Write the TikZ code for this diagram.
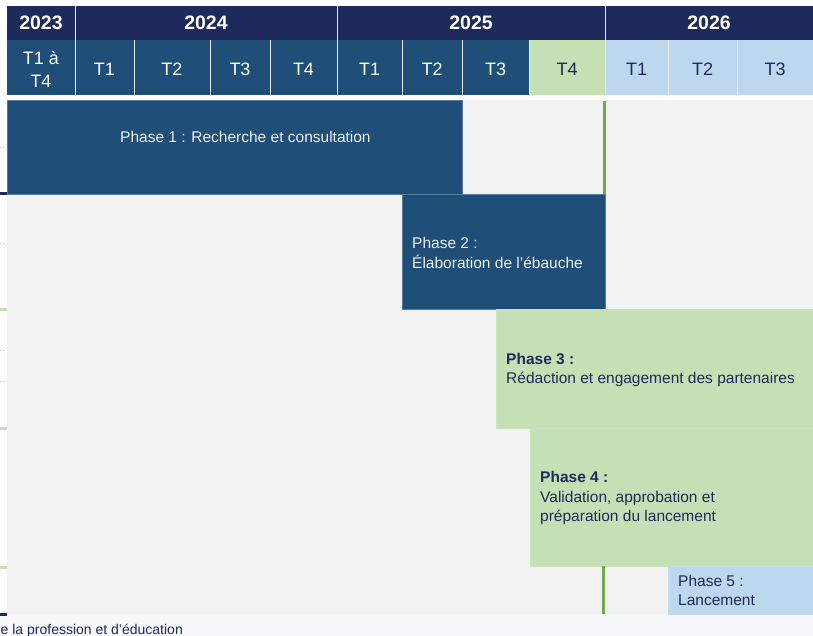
\documentclass[tikz,border=0pt]{standalone}
\usepackage{fontspec}
\setmainfont{Liberation Sans}
\definecolor{navy}{HTML}{1F2A5C}
\definecolor{dblue}{HTML}{1F4E79}
\definecolor{lgreen}{HTML}{C5E0B4}
\definecolor{lblue}{HTML}{BDD7EE}
\definecolor{bodygray}{HTML}{F2F2F2}
\definecolor{footbg}{HTML}{F7F8FB}
\definecolor{vgreen}{HTML}{70AD47}
\begin{document}
\begin{tikzpicture}[x=1pt,y=-1pt,
  cell/.style={rectangle, inner sep=0pt, outer sep=0pt, anchor=north west},
  yearcell/.style={cell, fill=navy, text=white, minimum height=34pt,
    font=\fontsize{19.5}{22}\selectfont\bfseries},
  qcell/.style={cell, minimum height=55pt, align=center,
    font=\fontsize{18}{23}\selectfont},
  qdark/.style={qcell, fill=dblue, text=white},
  qgreen/.style={qcell, fill=lgreen, text=navy},
  qblue/.style={qcell, fill=lblue, text=navy},
  qlab/.style={inner sep=0pt, font=\fontsize{18}{23}\selectfont, align=center},
  sep/.style={draw=white!85!gray, line width=0.9pt},
  phasebox/.style={cell, line width=0.5pt},
  pdark/.style={phasebox, fill=dblue, draw=dblue!75!white},
  pgreen/.style={phasebox, fill=lgreen, draw=lgreen!90!white},
  pblue/.style={phasebox, fill=lblue, draw=lblue!90!white},
  ptext/.style={anchor=west, align=left, inner sep=0pt,
    font=\fontsize{15.5}{19.5}\selectfont},
  vline/.style={draw=vgreen, line width=3pt},
  tick/.style={draw=gray!50, line width=0.6pt, dotted},
]
\useasboundingbox (0,0) rectangle (813,636);
\fill[white] (0,0) rectangle (813,636);

% body and footer backgrounds
\fill[bodygray] (7,100) rectangle (813,614);
\fill[footbg] (0,614) rectangle (813,636);

% year row
\node[yearcell, minimum width=68pt]  (y2023) at (7,6)   {2023};
\node[yearcell, minimum width=262pt] (y2024) at (75,6)  {2024};
\node[yearcell, minimum width=268pt] (y2025) at (337,6) {2025};
\node[yearcell, minimum width=208pt] (y2026) at (605,6) {2026};

% quarter row cells
\node[qdark,  minimum width=68pt] (q0)  at (7,40)   {};
\node[qdark,  minimum width=59pt] (q1)  at (75,40)  {};
\node[qdark,  minimum width=76pt] (q2)  at (134,40) {};
\node[qdark,  minimum width=60pt] (q3)  at (210,40) {};
\node[qdark,  minimum width=67pt] (q4)  at (270,40) {};
\node[qdark,  minimum width=65pt] (q5)  at (337,40) {};
\node[qdark,  minimum width=60pt] (q6)  at (402,40) {};
\node[qdark,  minimum width=67pt] (q7)  at (462,40) {};
\node[qgreen, minimum width=76pt] (q8)  at (529,40) {};
\node[qblue,  minimum width=63pt] (q9)  at (605,40) {};
\node[qblue,  minimum width=69pt] (q10) at (668,40) {};
\node[qblue,  minimum width=76pt] (q11) at (737,40) {};

% quarter labels
\node[qlab, text=white] (l0) at ([yshift=-1.5pt]q0.center) {T1 à\\T4};
\foreach \n/\t in {1/T1,2/T2,3/T3,4/T4,5/T1,6/T2,7/T3}
  \node[qlab, text=white, anchor=base] (l\n) at ([yshift=-8.5pt]q\n.center) {\t};
\foreach \n/\t in {8/T4,9/T1,10/T2,11/T3}
  \node[qlab, text=navy, anchor=base] (l\n) at ([yshift=-8.5pt]q\n.center) {\t};

% header separators
\foreach \xx in {75,337,605} \draw[sep] (\xx,6) -- (\xx,40);
\foreach \xx in {75,134,210,270,337,402,462,529,605,668,737} \draw[sep] (\xx,40) -- (\xx,95);

% phase boxes
\node[pdark,  minimum width=455pt, minimum height=94pt]  (p1) at (7,100)   {};
\node[pdark,  minimum width=203pt, minimum height=115pt] (p2) at (402,194) {};
\node[pgreen, minimum width=317pt, minimum height=119pt] (p3) at (496,309) {};
\node[pgreen, minimum width=283pt, minimum height=138pt] (p4) at (530,428) {};
\node[pblue,  minimum width=145pt, minimum height=48pt]  (p5) at (668,566) {};

% phase texts
\node[ptext, text=white!94!black] (t1) at (120,137) {Phase 1 : Recherche et consultation};
\node[ptext, text=white!94!black] (t2) at (412,253) {Phase 2 :\\Élaboration de l’ébauche};
\node[ptext, text=navy] (t3) at (506,370) {\textbf{Phase 3 :}\\Rédaction et engagement des partenaires};
\node[ptext, text=navy] (t4) at (540,498) {\textbf{Phase 4 :}\\Validation, approbation et\\préparation du lancement};
\node[ptext, text=navy] (t5) at (678,590.5) {Phase 5 :\\Lancement};

% green milestone lines
\draw[vline] (604,101) -- (604,194);
\draw[vline] (603.5,566) -- (603.5,614);

% left edge marks
\fill[navy]   (0,192.5) rectangle (7,195.5);
\fill[navy]   (0,612.5) rectangle (7,615.5);
\fill[lgreen] (0,307.5) rectangle (7,311);
\fill[lgreen] (0,426.5) rectangle (7,430);
\fill[lgreen] (0,565.5) rectangle (7,569);
\foreach \yy in {147,243,350,381} \draw[tick] (0,\yy) -- (5,\yy);

% footer text (cut off at the lower edge, as in the source)
\begin{scope}
\clip (0,614) rectangle (813,636);
\node[anchor=base west, inner sep=0pt, text=navy, font=\fontsize{14}{16}\selectfont] (foot) at (0.5,634.5) {e la profession et d’éducation};
\end{scope}
\end{tikzpicture}
\end{document}
